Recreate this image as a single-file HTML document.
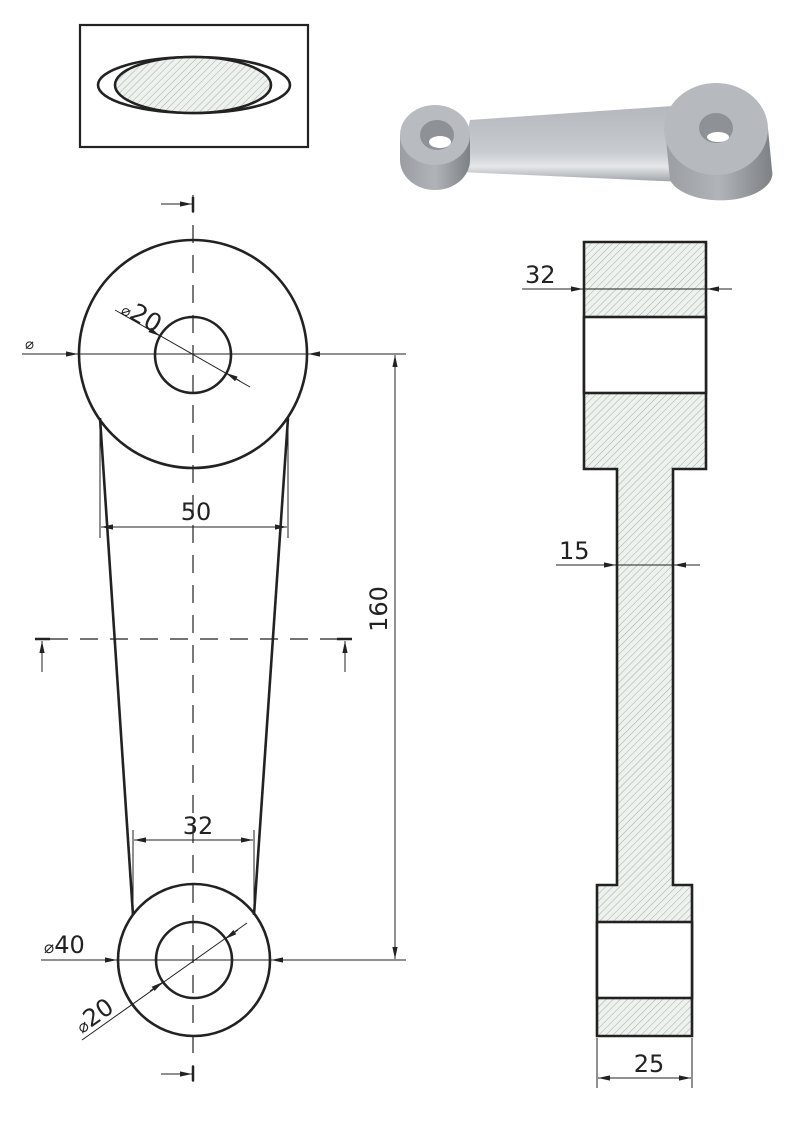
<!DOCTYPE html>
<html><head><meta charset="utf-8"><style>
html,body{margin:0;padding:0;background:#fff;}
svg{display:block;}
text{font-family:"DejaVu Sans","Liberation Sans",sans-serif;fill:#222;}
</style></head><body>
<svg width="794" height="1123" viewBox="0 0 794 1123" xmlns="http://www.w3.org/2000/svg">
<defs>
<pattern id="h" width="5" height="5" patternUnits="userSpaceOnUse" patternTransform="rotate(45)">
<rect width="5" height="5" fill="#eef2ee"/>
<line x1="0" y1="0" x2="0" y2="5" stroke="#98a898" stroke-width="0.9"/>
</pattern>
<marker id="a" viewBox="0 0 12 6" refX="12" refY="3" markerWidth="12" markerHeight="6" markerUnits="userSpaceOnUse" orient="auto-start-reverse">
<path d="M0,0.4 L12,3 L0,5.6 z" fill="#222"/>
</marker>
<linearGradient id="g1" x1="0" y1="0" x2="0" y2="1">
<stop offset="0" stop-color="#b4b8bd"/><stop offset="0.6" stop-color="#c8cbcf"/><stop offset="0.8" stop-color="#e4e6e8"/><stop offset="1" stop-color="#9ea2a7"/>
</linearGradient>
<linearGradient id="g2" x1="0" y1="0" x2="1" y2="0">
<stop offset="0" stop-color="#9a9ea3"/><stop offset="0.5" stop-color="#b0b4b8"/><stop offset="1" stop-color="#7d8186"/>
</linearGradient>
</defs>

<rect x="80" y="25" width="228" height="122" fill="none" stroke="#222" stroke-width="2.2"/>
<ellipse cx="194" cy="85" rx="96" ry="28" fill="none" stroke="#222" stroke-width="2.6"/>
<ellipse cx="193" cy="85" rx="78" ry="28" fill="url(#h)" stroke="#222" stroke-width="2.6"/>

<g>
<path d="M470,120 L672,106 L684,182 L460,172 Z" fill="url(#g1)"/>
<path d="M400,135 L400,160 A35,30 0 0 0 470,160 L470,135 Z" fill="url(#g2)"/>
<ellipse cx="435" cy="135" rx="35" ry="30" fill="#b8bcc0"/>
<ellipse cx="437" cy="135" rx="17" ry="15" fill="#8e9297"/>
<ellipse cx="440" cy="142" rx="11" ry="6" fill="#fff"/>
<path d="M665,129 L670,180 A52,27 0 0 0 772,170 L768,129 Z" fill="url(#g2)"/>
<ellipse cx="716" cy="129" rx="52" ry="46" fill="#b6babe"/>
<ellipse cx="716" cy="128" rx="17" ry="15" fill="#8e9297"/>
<ellipse cx="718" cy="137" rx="11" ry="5" fill="#fff"/>
</g>

<g fill="none" stroke="#222">
<line x1="193" y1="195" x2="193" y2="1082" stroke-width="1.2" stroke-dasharray="18,12"/>
<line x1="50" y1="639" x2="337" y2="639" stroke-width="1.2" stroke-dasharray="18,12"/>
<line x1="35" y1="639" x2="50" y2="639" stroke-width="2.5"/>
<line x1="337" y1="639" x2="352" y2="639" stroke-width="2.5"/>
<line x1="42" y1="672" x2="42" y2="641" stroke-width="1" marker-end="url(#a)"/>
<line x1="345" y1="672" x2="345" y2="641" stroke-width="1" marker-end="url(#a)"/>
<line x1="193" y1="197" x2="193" y2="212" stroke-width="2.5"/>
<line x1="161" y1="204" x2="192" y2="204" stroke-width="1" marker-end="url(#a)"/>
<line x1="193" y1="1066" x2="193" y2="1081" stroke-width="2.5"/>
<line x1="161" y1="1074" x2="192" y2="1074" stroke-width="1" marker-end="url(#a)"/>

<circle cx="193" cy="354" r="114" stroke-width="2.6"/>
<circle cx="193" cy="355" r="38" stroke-width="2.6"/>
<circle cx="194" cy="960" r="76" stroke-width="2.6"/>
<circle cx="194" cy="960" r="38" stroke-width="2.6"/>
<line x1="100" y1="418" x2="133" y2="915" stroke-width="2.6"/>
<line x1="288" y1="418" x2="254" y2="915" stroke-width="2.6"/>

<line x1="22" y1="354" x2="78" y2="354" stroke-width="1" marker-end="url(#a)"/>
<line x1="79" y1="354" x2="307" y2="354" stroke-width="1"/>
<line x1="333" y1="354" x2="308" y2="354" stroke-width="1" marker-end="url(#a)"/>
<line x1="308" y1="354" x2="406" y2="354" stroke-width="1"/>
<line x1="115" y1="310" x2="250" y2="387" stroke-width="1"/>
<line x1="145" y1="327" x2="160" y2="336" stroke-width="1" marker-end="url(#a)"/>
<line x1="240" y1="381" x2="226" y2="373" stroke-width="1" marker-end="url(#a)"/>

<line x1="100" y1="420" x2="100" y2="538" stroke-width="1"/>
<line x1="288" y1="420" x2="288" y2="538" stroke-width="1"/>
<line x1="101" y1="527" x2="287" y2="527" stroke-width="1" marker-start="url(#a)" marker-end="url(#a)"/>

<line x1="133" y1="830" x2="133" y2="912" stroke-width="1"/>
<line x1="254" y1="830" x2="254" y2="912" stroke-width="1"/>
<line x1="134" y1="840" x2="253" y2="840" stroke-width="1" marker-start="url(#a)" marker-end="url(#a)"/>

<line x1="395" y1="355" x2="395" y2="959" stroke-width="1" marker-start="url(#a)" marker-end="url(#a)"/>
<line x1="271" y1="960" x2="406" y2="960" stroke-width="1"/>
<line x1="296" y1="960" x2="271" y2="960" stroke-width="1" marker-end="url(#a)"/>
<line x1="41" y1="960" x2="117" y2="960" stroke-width="1" marker-end="url(#a)"/>
<line x1="118" y1="960" x2="270" y2="960" stroke-width="1"/>
<line x1="82" y1="1040" x2="247" y2="923" stroke-width="1"/>
<line x1="150" y1="991" x2="163" y2="982" stroke-width="1" marker-end="url(#a)"/>
<line x1="238" y1="930" x2="225" y2="939" stroke-width="1" marker-end="url(#a)"/>
</g>
<text x="25" y="349" font-size="15">⌀</text>
<text x="0" y="0" font-size="25" transform="translate(120,313) rotate(30)"><tspan font-size="15">⌀</tspan>20</text>
<text x="196" y="520" font-size="24" text-anchor="middle">50</text>
<text x="198" y="834" font-size="24" text-anchor="middle">32</text>
<text x="0" y="0" font-size="24" text-anchor="middle" transform="translate(387,609) rotate(-90)">160</text>
<text x="44" y="953" font-size="24"><tspan font-size="17">⌀</tspan>40</text>
<text x="0" y="0" font-size="24" transform="translate(82,1034) rotate(-35)"><tspan font-size="17">⌀</tspan>20</text>

<g stroke="#222" stroke-width="2.6">
<path d="M584,242 L706,242 L706,469 L673,469 L673,885 L692,885 L692,1036 L597,1036 L597,885 L617,885 L617,469 L584,469 Z" fill="url(#h)"/>
<rect x="584" y="317" width="122" height="76" fill="#fff"/>
<rect x="597" y="922" width="95" height="76" fill="#fff"/>
</g>
<g fill="none" stroke="#222" stroke-width="1">
<line x1="522" y1="289" x2="583" y2="289" marker-end="url(#a)"/>
<line x1="584" y1="289" x2="706" y2="289"/>
<line x1="732" y1="289" x2="707" y2="289" marker-end="url(#a)"/>
<line x1="556" y1="565" x2="616" y2="565" marker-end="url(#a)"/>
<line x1="617" y1="565" x2="673" y2="565"/>
<line x1="700" y1="565" x2="674" y2="565" marker-end="url(#a)"/>
<line x1="597" y1="1038" x2="597" y2="1088"/>
<line x1="692" y1="1038" x2="692" y2="1088"/>
<line x1="598" y1="1078" x2="691" y2="1078" marker-start="url(#a)" marker-end="url(#a)"/>
</g>
<text x="525" y="283" font-size="24">32</text>
<text x="559" y="559" font-size="24">15</text>
<text x="649" y="1072" font-size="24" text-anchor="middle">25</text>
</svg>
</body></html>
